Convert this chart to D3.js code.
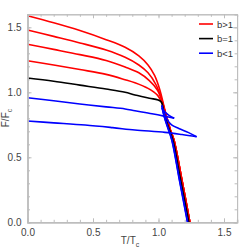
<!DOCTYPE html>
<html><head><meta charset="utf-8">
<script src="https://cdn.jsdelivr.net/npm/d3@7"></script>
<style>body{margin:0;background:#fff}svg{display:block}text{font-family:"Liberation Sans",Arial,sans-serif}</style>
</head><body>
<script>
// ---- data: [T/Tc, F/Fc] points per curve (branches separated) ----
const red1 = [[0,1.589],[0.2,1.535],[0.4,1.475],[0.6,1.405],[0.745,1.346],[0.85,1.28],[0.92,1.21],[0.97,1.13],[1.01,1.02],[1.04,0.9],[1.065,0.8],[1.09,0.71],[1.118,0.633],[1.18,0.32],[1.24,0]];
const red2 = [[0,1.479],[0.2,1.43],[0.4,1.38],[0.6,1.325],[0.745,1.269],[0.85,1.21],[0.92,1.15],[0.98,1.06],[1.02,0.96],[1.045,0.87],[1.068,0.79],[1.09,0.71],[1.118,0.633],[1.18,0.32],[1.24,0]];
const red3 = [[0,1.369],[0.2,1.33],[0.4,1.29],[0.6,1.245],[0.745,1.195],[0.85,1.15],[0.93,1.09],[0.99,1.02],[1.025,0.94],[1.05,0.85],[1.07,0.78],[1.09,0.71],[1.118,0.633],[1.18,0.32],[1.24,0]];
const red4 = [[0,1.243],[0.2,1.21],[0.4,1.175],[0.6,1.138],[0.745,1.097],[0.82,1.073],[0.92,1.03],[0.99,0.98],[1.03,0.91],[1.055,0.83],[1.075,0.77],[1.095,0.7],[1.118,0.633],[1.18,0.32],[1.24,0]];
const black = [[0,1.11],[0.2,1.085],[0.4,1.055],[0.6,1.025],[0.745,1.0],[0.82,0.979],[0.93,0.955],[1.019,0.928],[1.04,0.85],[1.07,0.75],[1.11,0.633],[1.17,0.32],[1.232,0]];
const blue1Upper = [[0,0.958],[0.2,0.935],[0.4,0.91],[0.6,0.888],[0.745,0.872],[0.82,0.858],[0.95,0.835],[1.05,0.815],[1.12,0.8]];
const blue1Return = [[1.12,0.8],[1.08,0.823],[1.05,0.848],[1.027,0.878]];
const blue1Lower = [[1.027,0.878],[1.045,0.81],[1.068,0.74],[1.103,0.633],[1.162,0.32],[1.223,0]];
const blue2Upper = [[0,0.779],[0.2,0.765],[0.44,0.748],[0.65,0.728],[0.82,0.71],[1.05,0.692],[1.18,0.675],[1.291,0.658]];
const blue2Return = [[1.291,0.658],[1.23,0.69],[1.155,0.722],[1.1,0.75],[1.06,0.8],[1.035,0.86],[1.025,0.9]];
const blue2Lower = [[1.025,0.9],[1.042,0.82],[1.066,0.74],[1.101,0.633],[1.16,0.32],[1.221,0]];
const series = [
  {label:"b>1", color:"#ff0000", branches:[red1,red2,red3,red4]},
  {label:"b=1", color:"#000000", branches:[black]},
  {label:"b<1", color:"#0000ff", branches:[blue1Upper,blue1Return,blue1Lower,blue2Upper,blue2Return,blue2Lower]}
];
const majorTicks = [0,0.5,1.0,1.5];
const minorTicks = d3.range(0,1.61,0.1);
const tickLabels = ["0.0","0.5","1.0","1.5"];

const W=250,H=248;
const svg=d3.select("body").append("svg").attr("width",W).attr("height",H);
const x=d3.scaleLinear().domain([0,1.6]).range([27.5,237.1]);
const y=d3.scaleLinear().domain([0,1.6]).range([222.3,14.3]);
const frame="#bdbdbd";

// clip
svg.append("clipPath").attr("id","c").append("rect").attr("x",x(0)).attr("y",y(1.6)).attr("width",x(1.6)-x(0)).attr("height",y(0)-y(1.6));

const line=d3.line().x(d=>x(d[0])).y(d=>y(d[1])).curve(d3.curveCatmullRom.alpha(0.5));
const g=svg.append("g").attr("clip-path","url(#c)");
series.forEach(s=>{
  s.branches.forEach(b=>{
    g.append("path").attr("d",line(b)).attr("fill","none").attr("stroke",s.color).attr("stroke-width",1.6).attr("stroke-linejoin","round");
  });
});

// axes (ticks inward)
function styleAxis(sel,w){
  sel.select(".domain").attr("stroke",frame).attr("stroke-width",w);
  sel.selectAll(".tick line").attr("stroke",frame);
  sel.selectAll("text").attr("fill","#444").attr("font-size","10px");
}
const fmt=(d)=>tickLabels[majorTicks.indexOf(d)]||"";
// minor
const axes=[
  [d3.axisBottom(x),`translate(0,${y(0)})`,-1,1.5],
  [d3.axisTop(x),`translate(0,${y(1.6)})`,-1,1],
  [d3.axisLeft(y),`translate(${x(0)},0)`,-1,1.5],
  [d3.axisRight(y),`translate(${x(1.6)},0)`,-1,1]
];
axes.forEach(([ax,tr,s,w],i)=>{
  const gm=svg.append("g").attr("transform",tr).call(ax.tickValues(minorTicks).tickSize(-2.5).tickFormat(""));
  styleAxis(gm,w);
  const gM=svg.append("g").attr("transform",tr).call(ax.tickValues(majorTicks).tickSizeInner(-4).tickSizeOuter(0).tickPadding(i<2?7:6).tickFormat(i===0||i===2?fmt:()=>""));
  styleAxis(gM,w);
});

// axis titles
const xt=svg.append("text").attr("x",130).attr("y",244).attr("text-anchor","middle").attr("font-size","10px").attr("fill","#444");
xt.append("tspan").text("T/T");
xt.append("tspan").attr("font-size","7px").attr("dy",2.5).text("c");
const yt=svg.append("text").attr("transform","translate(9,118) rotate(-90)").attr("text-anchor","middle").attr("font-size","10px").attr("fill","#444");
yt.append("tspan").text("F/F");
yt.append("tspan").attr("font-size","7px").attr("dy",2.5).text("c");

// legend
series.forEach((s,i)=>{
  const ly=24+i*14.6;
  svg.append("line").attr("x1",199).attr("x2",213).attr("y1",ly).attr("y2",ly).attr("stroke",s.color).attr("stroke-width",1.6);
  svg.append("text").attr("x",217).attr("y",ly+3.5).attr("font-size","9.5px").attr("fill","#333").text(s.label);
});
</script>
</body></html>
